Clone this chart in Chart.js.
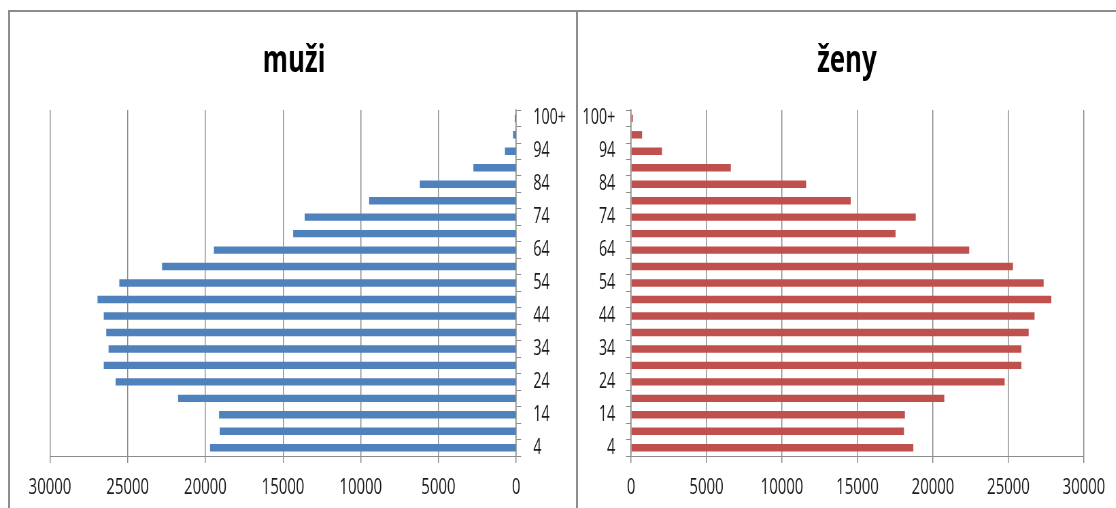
<!DOCTYPE html>
<html><head><meta charset="utf-8">
<script src="https://cdn.jsdelivr.net/npm/chart.js@4/dist/chart.umd.min.js"></script>
<style>
html,body{margin:0;padding:0;background:#fff;width:1116px;height:508px;overflow:hidden;position:relative}
.wrap{position:absolute;top:0;height:508px;transform:scaleX(0.68);transform-origin:0 0}
.line{position:absolute;background:#8c8c8c}
</style></head><body>
<div class="wrap" style="left:0;width:865px"><canvas id="cl" width="865" height="508"></canvas></div>
<div class="wrap" style="left:578px;width:791px"><canvas id="cr" width="791" height="508"></canvas></div>
<div class="line" style="left:8px;top:10px;width:1108px;height:2px"></div>
<div class="line" style="left:8px;top:10px;width:2px;height:498px"></div>
<div class="line" style="left:576px;top:10px;width:2px;height:498px"></div>
<script>
const ageGroups = ['4','9','14','19','24','29','34','39','44','49','54','59','64','69','74','79','84','89','94','99','100+'];
const men   = [19700,19080,19120,21760,25780,26540,26230,26380,26540,26940,25540,22790,19450,14350,13610,9460,6200,2750,720,200,90];
const women = [18700,18080,18140,20750,24750,25860,25860,26340,26730,27840,27330,25300,22400,17520,18860,14550,11600,6610,2050,730,120];
const valueTicks = [0,5000,10000,15000,20000,25000,30000];
const titles = ['muži','ženy'];
const colors = ['#4F81BD','#C0504D'];

const FONT = "'Open Sans', 'DejaVu Sans', sans-serif";
const GRID = '#8c8c8c';
const SX = 0.68;

function makeChart(id, title, data, color, left) {
  const padW = left ? 73.5 : 47;
  return new Chart(document.getElementById(id), {
    type: 'bar',
    data: {
      labels: ageGroups,
      datasets: [{ data: data, backgroundColor: color, borderWidth: 0,
                   barPercentage: 0.45, categoryPercentage: 1 }]
    },
    options: {
      indexAxis: 'y',
      responsive: false,
      maintainAspectRatio: false,
      animation: false,
      layout: { padding: 0 },
      plugins: {
        legend: { display: false },
        tooltip: { enabled: false },
        title: { display: true, text: title, color: '#000',
                 font: { family: FONT, size: 38, weight: 'bold' },
                 padding: { top: 38, bottom: 26.5 } }
      },
      scales: {
        x: {
          type: 'linear', reverse: left, min: valueTicks[0], max: valueTicks[valueTicks.length-1],
          afterBuildTicks: s => { s.ticks = valueTicks.map(v => ({ value: v })); },
          ticks: { callback: v => String(v), color: '#1a1a1a', font: { family: FONT, size: 22 },
                   padding: 12, maxRotation: 0, autoSkip: false },
          grid: { color: GRID, lineWidth: 1 / SX, tickLength: 7, drawTicks: true },
          border: { color: GRID, width: 1 },
          afterFit: s => { s.height = 52; }
        },
        y: {
          type: 'category', position: left ? 'right' : 'left', reverse: true, offset: true,
          grid: { drawOnChartArea: false, drawTicks: true, tickLength: 5 / SX, color: GRID, lineWidth: 1, offset: true },
          border: { color: GRID, width: 1 / SX },
          ticks: { autoSkip: false, padding: left ? 18 : 16, color: '#1a1a1a',
                   font: { family: FONT, size: 21 },
                   callback: (v, i) => (i % 2 === 0 ? ageGroups[i] : '') },
          afterFit: s => { s.width = left ? 106 : 78; }
        },
        spacer: {
          type: 'linear', axis: 'y', position: left ? 'left' : 'right', display: true,
          grid: { display: false, drawTicks: false }, border: { display: false },
          ticks: { display: false },
          afterFit: s => { s.width = padW; }
        }
      }
    }
  });
}
makeChart('cl', titles[0], men, colors[0], true);
makeChart('cr', titles[1], women, colors[1], false);
</script>
</body></html>
